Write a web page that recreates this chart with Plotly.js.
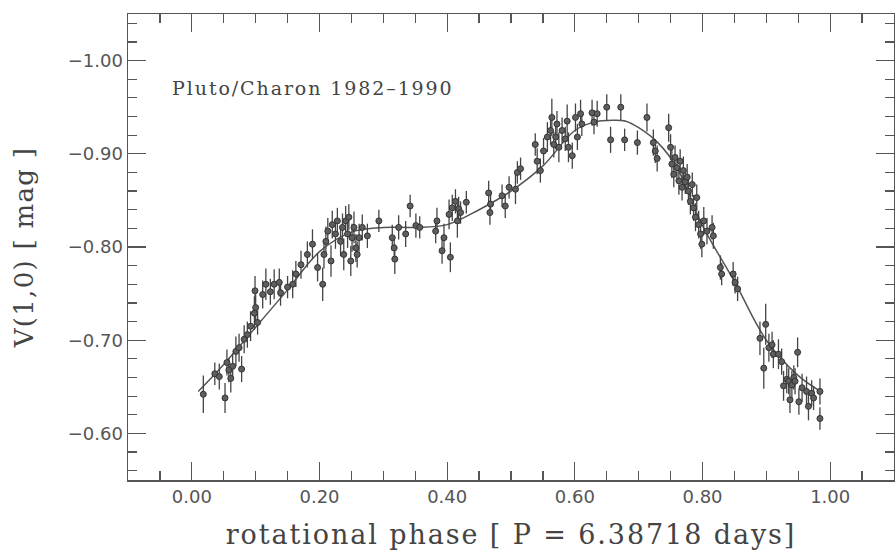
<!DOCTYPE html>
<html>
<head>
<meta charset="utf-8">
<script src="https://cdn.plot.ly/plotly-3.0.1.min.js"></script>
<style>
html,body{margin:0;padding:0;background:#fff}
#chart{width:895px;height:550px}
#chart .xtitle{letter-spacing:1.9px}
#chart .ytitle{letter-spacing:1.3px}
#chart .annotation-text{letter-spacing:1.9px}
</style>
</head>
<body>
<div id="chart"></div>
<script>
const phase = [0.018,0.036,0.043,0.052,0.055,0.058,0.061,0.064,0.069,0.074,0.078,0.082,0.087,0.092,0.098,0.100,0.099,0.103,0.111,0.116,0.123,0.129,0.137,0.139,0.150,0.158,0.163,0.171,0.181,0.189,0.197,0.205,0.207,0.210,0.213,0.218,0.220,0.225,0.228,0.233,0.236,0.238,0.241,0.244,0.246,0.249,0.251,0.254,0.257,0.259,0.262,0.267,0.275,0.293,0.314,0.317,0.318,0.324,0.335,0.342,0.351,0.357,0.382,0.384,0.392,0.395,0.403,0.405,0.408,0.413,0.416,0.418,0.421,0.430,0.465,0.468,0.467,0.486,0.491,0.497,0.507,0.510,0.515,0.538,0.541,0.546,0.551,0.557,0.562,0.564,0.567,0.570,0.572,0.575,0.580,0.585,0.588,0.590,0.596,0.601,0.604,0.609,0.611,0.627,0.630,0.635,0.650,0.656,0.672,0.678,0.698,0.713,0.723,0.726,0.729,0.747,0.750,0.752,0.755,0.757,0.760,0.763,0.765,0.768,0.770,0.773,0.776,0.778,0.781,0.784,0.786,0.789,0.791,0.794,0.797,0.799,0.802,0.807,0.815,0.817,0.828,0.830,0.848,0.851,0.855,0.890,0.896,0.899,0.904,0.909,0.911,0.919,0.924,0.927,0.932,0.935,0.937,0.940,0.943,0.945,0.949,0.951,0.956,0.963,0.966,0.971,0.974,0.984,0.984];
const mag = [-0.642,-0.664,-0.661,-0.638,-0.676,-0.668,-0.659,-0.672,-0.688,-0.692,-0.669,-0.701,-0.706,-0.715,-0.729,-0.735,-0.753,-0.719,-0.749,-0.760,-0.752,-0.760,-0.762,-0.751,-0.757,-0.760,-0.771,-0.781,-0.792,-0.803,-0.778,-0.760,-0.792,-0.806,-0.817,-0.785,-0.824,-0.814,-0.828,-0.806,-0.821,-0.792,-0.828,-0.814,-0.832,-0.785,-0.810,-0.821,-0.799,-0.792,-0.810,-0.821,-0.812,-0.828,-0.810,-0.799,-0.787,-0.821,-0.814,-0.844,-0.823,-0.821,-0.817,-0.828,-0.796,-0.810,-0.835,-0.789,-0.842,-0.849,-0.828,-0.841,-0.837,-0.848,-0.858,-0.846,-0.837,-0.855,-0.844,-0.864,-0.862,-0.880,-0.884,-0.910,-0.892,-0.882,-0.903,-0.918,-0.925,-0.939,-0.910,-0.918,-0.932,-0.907,-0.925,-0.916,-0.935,-0.907,-0.898,-0.939,-0.918,-0.943,-0.932,-0.944,-0.934,-0.943,-0.950,-0.915,-0.950,-0.915,-0.912,-0.939,-0.912,-0.903,-0.895,-0.928,-0.907,-0.889,-0.878,-0.896,-0.885,-0.871,-0.892,-0.864,-0.882,-0.870,-0.875,-0.860,-0.849,-0.867,-0.842,-0.832,-0.853,-0.824,-0.814,-0.803,-0.828,-0.817,-0.821,-0.812,-0.778,-0.771,-0.771,-0.762,-0.755,-0.702,-0.670,-0.717,-0.692,-0.695,-0.685,-0.685,-0.677,-0.651,-0.658,-0.656,-0.636,-0.652,-0.660,-0.656,-0.687,-0.634,-0.649,-0.645,-0.629,-0.643,-0.638,-0.645,-0.616];
const err = [0.020,0.012,0.014,0.016,0.014,0.013,0.015,0.014,0.016,0.015,0.014,0.015,0.014,0.016,0.018,0.014,0.016,0.013,0.015,0.017,0.014,0.016,0.015,0.014,0.012,0.015,0.014,0.015,0.014,0.016,0.015,0.018,0.015,0.016,0.014,0.017,0.015,0.016,0.014,0.016,0.015,0.017,0.016,0.015,0.014,0.016,0.015,0.017,0.015,0.014,0.015,0.014,0.013,0.012,0.014,0.013,0.016,0.013,0.014,0.012,0.013,0.012,0.013,0.014,0.014,0.015,0.016,0.016,0.014,0.013,0.018,0.013,0.012,0.012,0.013,0.012,0.013,0.012,0.013,0.012,0.016,0.012,0.012,0.012,0.014,0.013,0.014,0.016,0.015,0.020,0.014,0.013,0.014,0.016,0.014,0.013,0.018,0.016,0.014,0.015,0.014,0.015,0.013,0.014,0.013,0.014,0.014,0.014,0.014,0.012,0.013,0.015,0.014,0.013,0.014,0.015,0.014,0.015,0.014,0.013,0.014,0.015,0.013,0.014,0.015,0.013,0.014,0.015,0.014,0.013,0.014,0.015,0.014,0.015,0.016,0.014,0.015,0.014,0.013,0.014,0.013,0.012,0.013,0.012,0.013,0.018,0.022,0.022,0.015,0.014,0.015,0.016,0.014,0.016,0.015,0.014,0.014,0.015,0.013,0.014,0.016,0.014,0.015,0.016,0.015,0.014,0.013,0.014,0.012];

const fitPhase = [0.01,0.05,0.10,0.15,0.20,0.25,0.30,0.35,0.40,0.45,0.50,0.55,0.60,0.63,0.66,0.68,0.70,0.73,0.76,0.80,0.85,0.90,0.95,0.985];
const fitMag = [-0.645,-0.674,-0.714,-0.754,-0.795,-0.816,-0.821,-0.821,-0.824,-0.840,-0.860,-0.887,-0.925,-0.934,-0.936,-0.935,-0.928,-0.912,-0.885,-0.823,-0.763,-0.700,-0.662,-0.645];

const label = 'Pluto/Charon 1982\u20131990';
const xTitle = 'rotational phase [ P = 6.38718 days]';
const yTitle = 'V(1,0) [ mag ]';

const traces = [
  {x: fitPhase, y: fitMag, mode: 'lines', line: {color: '#555', width: 1.5, shape: 'spline', smoothing: 1}, hoverinfo: 'skip'},
  {x: phase, y: mag, mode: 'markers',
   error_y: {type: 'data', array: err, visible: true, color: '#444', thickness: 1.3, width: 0},
   marker: {symbol: 'circle', size: 6, color: '#5e5e5e', line: {color: '#333', width: 1}}}
];
const axisCommon = {
  showline: true, linecolor: '#555', linewidth: 1.5, mirror: 'ticks',
  ticks: 'inside', ticklen: 18, tickwidth: 1.3, tickcolor: '#555',
  showgrid: false, zeroline: false,
  tickfont: {family: 'DejaVu Sans', size: 18, color: '#555'}
};
const layout = {
  width: 895, height: 550,
  margin: {l: 128, r: 1, t: 14, b: 70},
  paper_bgcolor: '#fff', plot_bgcolor: '#fff',
  showlegend: false,
  xaxis: Object.assign({}, axisCommon, {
    range: [-0.1, 1.1], tick0: 0, dtick: 0.2, tickformat: '.2f',
    minor: {dtick: 0.05, ticklen: 9, tickcolor: '#555', tickwidth: 1.2, ticks: 'inside'},
    title: {text: xTitle, font: {family: 'DejaVu Serif', size: 27, color: '#444'}, standoff: 21}
  }),
  yaxis: Object.assign({}, axisCommon, {
    range: [-0.55, -1.05], tick0: -1, dtick: 0.1, tickformat: '.2f',
    minor: {dtick: 0.02, ticklen: 9, tickcolor: '#555', tickwidth: 1.2, ticks: 'inside'},
    title: {text: yTitle, font: {family: 'DejaVu Serif', size: 26, color: '#444'}, standoff: 26}
  }),
  annotations: [{
    x: -0.001, y: -0.971, xref: 'x', yref: 'y', xanchor: 'left', yanchor: 'middle',
    text: label, showarrow: false, font: {family: 'DejaVu Serif', size: 19, color: '#444'}
  }]
};
Plotly.newPlot('chart', traces, layout, {displayModeBar: false, staticPlot: true});
</script>
</body>
</html>
